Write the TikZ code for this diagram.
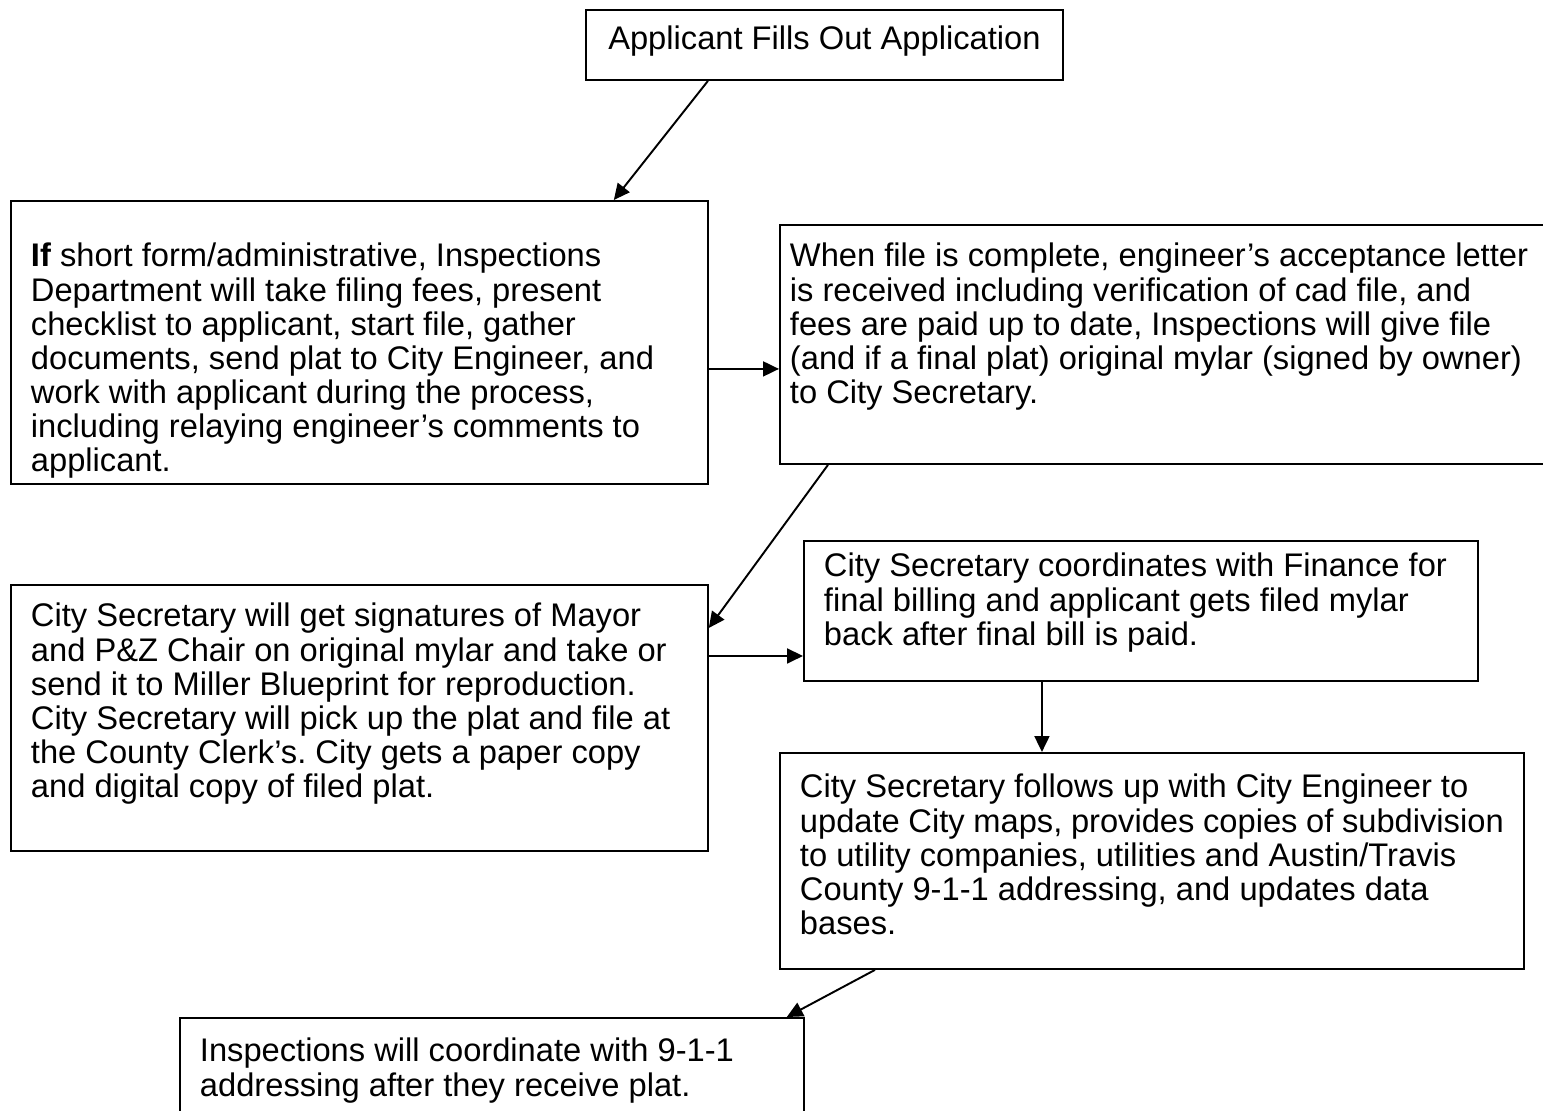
\documentclass[tikz,border=0pt]{standalone}
\usepackage{fontspec}
\setmainfont{Liberation Sans}
\usetikzlibrary{arrows.meta}

\begin{document}
\begin{tikzpicture}[x=0.02cm,y=-0.02cm,
        box/.style={draw,line width=1.1pt,anchor=north west,align=flush left,
                font=\fontsize{18.6pt}{19.45pt}\selectfont\frenchspacing,
                inner xsep=0.4cm,inner ysep=0pt},
        arr/.style={-{Triangle[length=0.32cm,width=0.3cm]},line width=1.1pt}]
        \useasboundingbox (0,0) rectangle (1543,1111);
        \node[box,minimum width=9.54cm,text height=0.8cm,text depth=0.6cm] (a) at (585,9) {Applicant Fills Out Application};
        \node[box,text width=13.14cm,text height=1.32cm,text depth=4.34cm] (b) at (10,200) {\textbf{If} short form/administrative, Inspections\\Department will take filing fees, present\\checklist to applicant, start file, gather\\documents, send plat to City Engineer, and\\work with applicant during the process,\\including relaying engineer’s comments to\\applicant.};
        \node[box,inner xsep=0.2cm,text width=15.02cm,text height=0.84cm,text depth=3.94cm] (c) at (779,224) {When file is complete, engineer’s acceptance letter\\is received including verification of cad file, and\\fees are paid up to date, Inspections will give file\\(and if a final plat) original mylar (signed by owner)\\to City Secretary.};
        \node[box,text width=13.14cm,text height=0.84cm,text depth=4.48cm] (d) at (10,584) {City Secretary will get signatures of Mayor\\and P\&Z Chair on original mylar and take or\\send it to Miller Blueprint for reproduction.\\City Secretary will pick up the plat and file at\\the County Clerk’s. City gets a paper copy\\and digital copy of filed plat.};
        \node[box,text width=12.68cm,text height=0.72cm,text depth=2.08cm] (e) at (803,540) {City Secretary coordinates with Finance for\\final billing and applicant gets filed mylar\\back after final bill is paid.};
        \node[box,text width=14.08cm,text height=0.9cm,text depth=3.42cm] (f) at (779,752) {City Secretary follows up with City Engineer to\\update City maps, provides copies of subdivision\\to utility companies, utilities and Austin/Travis\\County 9-1-1 addressing, and updates data\\bases.};
        \node[box,text width=11.68cm,text height=0.88cm,text depth=1.4cm] (g) at (179,1017) {Inspections will coordinate with 9-1-1\\addressing after they receive plat.};
        \draw[arr] ([xshift=-2.33cm]a.south) -- ([xshift=5.09cm]b.north);
        \draw[arr] ([yshift=-0.53cm]b.east) -- ([yshift=-0.53cm]b.east -| c.west);
        \draw[arr] ([xshift=0.98cm]c.south west) -- ([yshift=-0.88cm]d.north east);
        \draw[arr] ([yshift=-1.44cm]d.north east) -- ([yshift=-1.44cm]d.north east -| e.west);
        \draw[arr] ([xshift=4.78cm]e.south west) -- ([xshift=4.78cm]e.south west |- f.north);
        \draw[arr] ([xshift=1.92cm]f.south west) -- ([xshift=-0.36cm]g.north east);
\end{tikzpicture}
\end{document}
